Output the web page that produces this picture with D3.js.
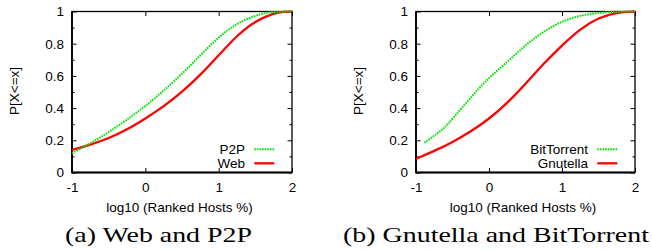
<!DOCTYPE html>
<html>
<head>
<meta charset="utf-8">
<script src="https://cdn.jsdelivr.net/npm/d3@7"></script>
<style>
  html, body { margin: 0; padding: 0; background: #fff; }
  svg { display: block; }
</style>
</head>
<body>
<svg id="chart" width="652" height="250"></svg>
<script>
// ---------------- data ----------------
const xTicks = [-1, 0, 1, 2];
const xTickLabels = ["-1", "0", "1", "2"];
const yTicks = [0, 0.2, 0.4, 0.6, 0.8, 1];
const yTickLabels = ["0", "0.2", "0.4", "0.6", "0.8", "1"];
const yMinorTicks = [0.1, 0.3, 0.5, 0.7, 0.9];

// Panel (a)
const webX = [-1, -0.75, -0.5, -0.25, 0, 0.25, 0.5, 0.75, 1, 1.25, 1.5, 1.75, 1.85, 2];
const webY = [0.14, 0.172, 0.212, 0.266, 0.335, 0.41, 0.5, 0.605, 0.728, 0.852, 0.943, 0.988, 0.998, 1.0];
const p2pX = [-1, -0.75, -0.5, -0.25, 0, 0.25, 0.5, 0.75, 1, 1.25, 1.5, 1.65, 1.75, 2];
const p2pY = [0.12, 0.18, 0.25, 0.328, 0.412, 0.508, 0.612, 0.728, 0.843, 0.928, 0.975, 0.993, 0.998, 1.0];

// Panel (b)
const gnutellaX = [-1, -0.75, -0.5, -0.25, 0, 0.25, 0.5, 0.75, 1, 1.25, 1.5, 1.75, 2];
const gnutellaY = [0.085, 0.133, 0.188, 0.254, 0.332, 0.43, 0.55, 0.678, 0.79, 0.893, 0.963, 0.995, 1.0];
const bitTorrentX = [-0.886, -0.75, -0.6, -0.5, -0.25, 0, 0.25, 0.5, 0.75, 1, 1.25, 1.5, 1.75, 2];
const bitTorrentY = [0.185, 0.228, 0.28, 0.335, 0.465, 0.592, 0.685, 0.792, 0.878, 0.94, 0.976, 0.993, 0.999, 1.0];

const xTitle = "log10 (Ranked Hosts %)";
const yTitle = "P[X<=x]";

// ---------------- drawing ----------------
const svg = d3.select("#chart");
const GREEN = "#00e400";
const RED = "#ff0000";
const SANS = "'Liberation Sans', Arial, sans-serif";
const SERIF = "'Liberation Serif', 'Times New Roman', serif";

function drawPanel(cfg) {
  const g = svg.append("g");
  const x = d3.scaleLinear().domain([-1, 2]).range([cfg.left, cfg.right]);
  const y = d3.scaleLinear().domain([0, 1]).range([cfg.bottom, cfg.top]);

  // minor y ticks (left and right)
  g.append("g").attr("transform", `translate(${cfg.left},0)`)
    .call(d3.axisLeft(y).tickValues(yMinorTicks).tickSize(-2.5).tickFormat(""))
    .call(a => a.select(".domain").remove());
  g.append("g").attr("transform", `translate(${cfg.right},0)`)
    .call(d3.axisRight(y).tickValues(yMinorTicks).tickSize(-2.5).tickFormat(""))
    .call(a => a.select(".domain").remove());

  // major y ticks
  const yl = g.append("g").attr("transform", `translate(${cfg.left},0)`)
    .call(d3.axisLeft(y).tickValues(yTicks).tickSize(-4.5).tickPadding(8)
      .tickFormat((d, i) => yTickLabels[i]));
  yl.select(".domain").remove();
  g.append("g").attr("transform", `translate(${cfg.right},0)`)
    .call(d3.axisRight(y).tickValues(yTicks).tickSize(-4.5).tickFormat(""))
    .call(a => a.select(".domain").remove());

  // x ticks
  const xl = g.append("g").attr("transform", `translate(0,${cfg.bottom})`)
    .call(d3.axisBottom(x).tickValues(xTicks).tickSize(-4.5).tickPadding(10)
      .tickFormat((d, i) => xTickLabels[i]));
  xl.select(".domain").remove();
  g.append("g").attr("transform", `translate(0,${cfg.top})`)
    .call(d3.axisTop(x).tickValues(xTicks).tickSize(-4.5).tickFormat(""))
    .call(a => a.select(".domain").remove());

  g.selectAll(".tick line").attr("stroke", "#000").attr("stroke-width", 1);
  g.selectAll(".tick text").style("font-size", "13.5px").style("font-family", SANS).attr("fill", "#000");

  // frame
  g.append("rect")
    .attr("x", cfg.left).attr("y", cfg.top)
    .attr("width", cfg.right - cfg.left).attr("height", cfg.bottom - cfg.top)
    .attr("fill", "none").attr("stroke", "#000").attr("stroke-width", 1.3);
  g.append("line").attr("x1", cfg.left).attr("x2", cfg.left)
    .attr("y1", cfg.top).attr("y2", cfg.bottom + 0.8)
    .attr("stroke", "#000").attr("stroke-width", 1.8);
  g.append("line").attr("x1", cfg.left).attr("x2", cfg.right)
    .attr("y1", cfg.bottom).attr("y2", cfg.bottom)
    .attr("stroke", "#000").attr("stroke-width", 1.8);

  // lines
  const line = d3.line().x(d => x(d[0])).y(d => y(d[1])).curve(d3.curveBasis);
  cfg.series.forEach(s => {
    const pts = s.xs.map((v, i) => [v, s.ys[i]]);
    g.append("path").datum(pts)
      .attr("d", line)
      .attr("fill", "none")
      .attr("stroke", s.color)
      .attr("stroke-width", s.dotted ? 2 : 2.3)
      .attr("stroke-dasharray", s.dotted ? "1.6,1" : null);
  });

  // legend
  const lineX1 = cfg.right - 37.7, lineX2 = cfg.right - 17.7;
  const rows = [cfg.top + 137.8, cfg.top + 151.8];
  cfg.legend.forEach((s, i) => {
    g.append("text")
      .attr("x", cfg.right - 47)
      .attr("y", rows[i])
      .attr("dy", "0.36em")
      .attr("text-anchor", "end")
      .style("font-family", SANS).style("font-size", "13.5px")
      .text(s.label);
    g.append("line")
      .attr("x1", lineX1).attr("x2", lineX2)
      .attr("y1", rows[i]).attr("y2", rows[i])
      .attr("stroke", s.color)
      .attr("stroke-width", s.dotted ? 2 : 2.3)
      .attr("stroke-dasharray", s.dotted ? "1.6,1" : null);
  });

  // axis titles
  g.append("text")
    .attr("x", (cfg.left + cfg.right) / 2 - 2.5)
    .attr("y", 212.3)
    .attr("text-anchor", "middle")
    .style("font-family", SANS).style("font-size", "13.5px")
    .text(xTitle);
  g.append("text")
    .attr("transform", `translate(${cfg.left - 53},${(cfg.top + cfg.bottom) / 2 - 1}) rotate(-90)`)
    .attr("text-anchor", "middle")
    .style("font-family", SANS).style("font-size", "13.5px")
    .text(yTitle);

  // caption
  g.append("text")
    .attr("x", cfg.capX)
    .attr("y", 241.5)
    .style("font-family", SERIF)
    .style("font-size", "22px")
    .style("font-weight", "normal")
    .attr("textLength", cfg.capW)
    .attr("lengthAdjust", "spacingAndGlyphs")
    .text(cfg.caption);
}

drawPanel({
  left: 72, right: 292, top: 11.5, bottom: 172.5,
  series: [
    { xs: webX, ys: webY, color: RED, dotted: false },
    { xs: p2pX, ys: p2pY, color: GREEN, dotted: true }
  ],
  legend: [
    { label: "P2P", color: GREEN, dotted: true },
    { label: "Web", color: RED, dotted: false }
  ],
  caption: "(a) Web and P2P", capX: 65, capW: 187
});

drawPanel({
  left: 416, right: 635, top: 11.5, bottom: 172.5,
  series: [
    { xs: gnutellaX, ys: gnutellaY, color: RED, dotted: false },
    { xs: bitTorrentX, ys: bitTorrentY, color: GREEN, dotted: true }
  ],
  legend: [
    { label: "BitTorrent", color: GREEN, dotted: true },
    { label: "Gnutella", color: RED, dotted: false }
  ],
  caption: "(b) Gnutella and BitTorrent", capX: 343, capW: 306
});
</script>
</body>
</html>
